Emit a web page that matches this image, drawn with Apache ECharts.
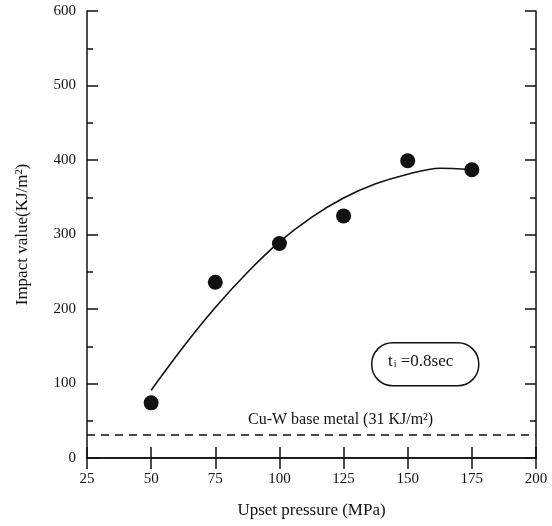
<!DOCTYPE html>
<html>
<head>
<meta charset="utf-8">
<script src="https://cdn.jsdelivr.net/npm/echarts@6/dist/echarts.min.js"></script>
<style>
  html, body { margin: 0; padding: 0; background: #fff; }
  #chart { width: 552px; height: 526px; }
</style>
</head>
<body>
<div id="chart"></div>
<script>
// Measured impact values at each upset pressure
const pressures = [50, 75, 100, 125, 150, 175];
const impactValues = [74, 236, 288, 325, 399, 387];

// Fitted trend curve (pressure, impact value)
const fitPressures = [50, 62.5, 75, 87.5, 100, 112.5, 125, 137.5, 150, 162.5, 175];
const fitValues = [91, 149, 202, 249, 290, 323, 349, 368, 381, 389, 387];

// Reference level of the Cu-W base metal
const baseMetalValue = 31;
const baseMetalLabel = 'Cu-W base metal (31 KJ/m²)';
const upsetTimeLabel = '0.8sec';

const xTicks = { min: 25, max: 200, interval: 25 };
const yTicks = { min: 0, max: 600, interval: 100 };

const serif = '"Liberation Serif", "DejaVu Serif", serif';
const ink = '#111';

const chart = echarts.init(document.getElementById('chart'), null, { renderer: 'canvas' });

const tickStyle = { show: true, inside: true, length: 11, lineStyle: { color: ink, width: 1.5 } };
const minorStyle = { show: true, splitNumber: 2, length: 6, lineStyle: { color: ink, width: 1.5 } };
const lineStyle = { show: true, lineStyle: { color: ink, width: 1.5 } };

chart.setOption({
  animation: false,
  backgroundColor: '#fff',
  grid: { left: 87, right: 16, top: 11, bottom: 68 },
  xAxis: [
    {
      type: 'value', min: xTicks.min, max: xTicks.max, interval: xTicks.interval,
      axisLine: lineStyle, axisTick: tickStyle, splitLine: { show: false },
      axisLabel: { color: ink, fontFamily: serif, fontSize: 15, margin: 14 },
      name: 'Upset pressure (MPa)', nameLocation: 'middle', nameGap: 44,
      nameTextStyle: { color: ink, fontFamily: serif, fontSize: 17 }
    },
    {
      type: 'value', position: 'top', min: xTicks.min, max: xTicks.max, interval: xTicks.interval,
      axisLine: lineStyle, axisTick: tickStyle, axisLabel: { show: false }, splitLine: { show: false }
    }
  ],
  yAxis: [
    {
      type: 'value', min: yTicks.min, max: yTicks.max, interval: yTicks.interval,
      axisLine: lineStyle, axisTick: tickStyle, minorTick: minorStyle, splitLine: { show: false },
      axisLabel: { color: ink, fontFamily: serif, fontSize: 15, margin: 11 },
      name: 'Impact value(KJ/m²)', nameLocation: 'middle', nameGap: 56,
      nameTextStyle: { color: ink, fontFamily: serif, fontSize: 17 }
    },
    {
      type: 'value', position: 'right', min: yTicks.min, max: yTicks.max, interval: yTicks.interval,
      axisLine: lineStyle, axisTick: tickStyle, minorTick: minorStyle,
      axisLabel: { show: false }, splitLine: { show: false }
    }
  ],
  series: [
    {
      type: 'line',
      data: fitPressures.map((p, i) => [p, fitValues[i]]),
      smooth: 0.3,
      showSymbol: false,
      lineStyle: { color: ink, width: 1.6 },
      markLine: {
        silent: true,
        symbol: 'none',
        label: { show: false },
        lineStyle: { color: ink, width: 1.6, type: [8, 6] },
        data: [{ yAxis: baseMetalValue }]
      },
      z: 2
    },
    {
      type: 'scatter',
      data: pressures.map((p, i) => [p, impactValues[i]]),
      symbol: 'circle',
      symbolSize: 15,
      itemStyle: { color: ink, opacity: 1 },
      z: 3
    }
  ],
  graphic: [
    {
      type: 'text',
      left: 248, top: 412,
      style: { text: baseMetalLabel, font: '16px ' + serif, fill: ink }
    },
    {
      type: 'rect',
      left: 371, top: 342,
      shape: { width: 107, height: 43, r: 21 },
      style: { fill: '#fff', stroke: ink, lineWidth: 1.5 }
    },
    {
      type: 'text',
      left: 388, top: 353,
      style: {
        text: '{t|t}{s|i}{t| =' + upsetTimeLabel + '}',
        rich: {
          t: { font: '17px ' + serif, fill: ink },
          s: { font: '10px ' + serif, fill: ink, padding: [6, 0, 0, 1] }
        }
      }
    }
  ]
});
</script>
</body>
</html>
